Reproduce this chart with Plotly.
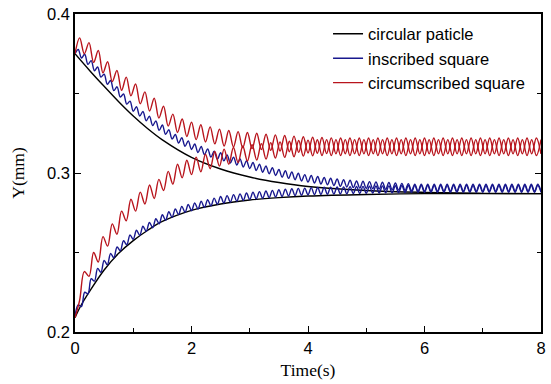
import numpy as np
import plotly.graph_objects as go

# ---- data ----
series_names = ["circular paticle", "inscribed square", "circumscribed square"]

# circular particle (smooth curves)
circ_upper_t = [0, 0.25, 0.5, 0.75, 1, 1.25, 1.5, 2, 2.5, 3, 3.5, 4, 5, 6, 7, 8]
circ_upper_y = [0.375, 0.3645, 0.3545, 0.3448, 0.3358, 0.3278, 0.3208, 0.3098, 0.3025, 0.2975,
                0.294, 0.2915, 0.289, 0.2878, 0.2872, 0.287]
circ_lower_t = [0, 0.1, 0.25, 0.5, 0.75, 1, 1.25, 1.5, 2, 2.5, 3, 3.5, 4, 5, 6, 7, 8]
circ_lower_y = [0.209, 0.2165, 0.2255, 0.239, 0.2495, 0.2575, 0.264, 0.2695, 0.2765, 0.2805,
                0.283, 0.2845, 0.2855, 0.2865, 0.287, 0.287, 0.287]

# inscribed square: successive peaks / troughs (start value first)
insc_upper_y = [
    0.375, 0.3777, 0.3723, 0.3747, 0.3683, 0.3707, 0.3643, 0.3667, 0.3603, 0.3622,
    0.3558, 0.3582, 0.3518, 0.3542, 0.3478, 0.3497, 0.3433, 0.3452, 0.3388, 0.3417,
    0.3358, 0.3387, 0.3328, 0.3357, 0.3298, 0.3327, 0.3268, 0.3302, 0.3243, 0.3272,
    0.3213, 0.3242, 0.3188, 0.3222, 0.3168, 0.3202, 0.3148, 0.3182, 0.3128, 0.3167,
    0.3115, 0.3152, 0.3100, 0.3137, 0.3086, 0.3127, 0.3076, 0.3113, 0.3063, 0.3100,
    0.3050, 0.3088, 0.3038, 0.3077, 0.3028, 0.3066, 0.3016, 0.3055, 0.3005, 0.3044,
    0.2995, 0.3033, 0.2984, 0.3022, 0.2974, 0.3014, 0.2966, 0.3006, 0.2958, 0.2998,
    0.2950, 0.2990, 0.2943, 0.2984, 0.2937, 0.2978, 0.2931, 0.2972, 0.2926, 0.2967,
    0.2921, 0.2962, 0.2916, 0.2958, 0.2912, 0.2954, 0.2908, 0.2950, 0.2905, 0.2948,
    0.2903, 0.2946, 0.2901, 0.2944, 0.2899, 0.2942, 0.2897, 0.2940, 0.2895, 0.2937,
    0.2892, 0.2935, 0.2890, 0.2933, 0.2888,
    0.293, 0.2885, 0.293, 0.2885, 0.293, 0.2885, 0.293, 0.2885, 0.293, 0.2885,
    0.293, 0.2885, 0.293, 0.2885, 0.293, 0.2885, 0.293, 0.2885, 0.293, 0.2885,
    0.293, 0.2885, 0.293, 0.2885, 0.293, 0.2885, 0.293, 0.2885, 0.293, 0.2885,
    0.293, 0.2885, 0.293, 0.2885, 0.293, 0.2885, 0.293, 0.2885, 0.293, 0.2885,
]
insc_lower_y = [
    0.210, 0.217, 0.216, 0.225, 0.224, 0.2335, 0.232, 0.240, 0.2375, 0.245,
    0.2422, 0.2494, 0.2467, 0.2535, 0.2511, 0.2574, 0.2548, 0.2610, 0.2583, 0.2640,
    0.2608, 0.2665, 0.2633, 0.2689, 0.2656, 0.2712, 0.2681, 0.2737, 0.2703, 0.2756,
    0.2721, 0.2774, 0.2738, 0.2790, 0.2753, 0.2802, 0.2763, 0.2812, 0.2773, 0.2822,
    0.2783, 0.2832, 0.2793, 0.2842, 0.2803, 0.2852, 0.2811, 0.2858, 0.2817, 0.2864,
    0.2823, 0.2869, 0.2828, 0.2874, 0.2833, 0.2879, 0.2837, 0.2883, 0.2841, 0.2887,
    0.2845, 0.2891, 0.2849, 0.2895, 0.2852, 0.2898, 0.2855, 0.2901, 0.2858, 0.2903,
    0.2860, 0.2905, 0.2863, 0.2908, 0.2864, 0.2909, 0.2865, 0.2910, 0.2866, 0.2911,
    0.2867, 0.2912, 0.2868, 0.2913, 0.2869, 0.2914, 0.2871, 0.2915, 0.2872, 0.2916,
    0.2873, 0.2917, 0.2874, 0.2918, 0.2874, 0.2919, 0.2875, 0.2919, 0.2876, 0.2920,
    0.2876, 0.2921, 0.2877, 0.2921, 0.2878,
    0.2922, 0.2878, 0.2922, 0.2878, 0.2922, 0.2878, 0.2922, 0.2878, 0.2922, 0.2878,
    0.2922, 0.2878, 0.2922, 0.2878, 0.2922, 0.2878, 0.2922, 0.2878, 0.2922, 0.2878,
    0.2922, 0.2878, 0.2922, 0.2878, 0.2922, 0.2878, 0.2922, 0.2878, 0.2922, 0.2878,
    0.2922, 0.2878, 0.2922, 0.2878, 0.2922, 0.2878, 0.2922, 0.2878, 0.2922, 0.2878,
]

# circumscribed square: successive peaks / troughs (start value first)
circum_upper_y = [
    0.375, 0.385, 0.375, 0.382, 0.3695, 0.377, 0.363, 0.370, 0.3575, 0.3645,
    0.352, 0.3603, 0.3485, 0.356, 0.3435, 0.351, 0.339, 0.347, 0.3345, 0.342,
    0.3295, 0.337, 0.3255, 0.334, 0.323, 0.332, 0.321, 0.3303, 0.3195, 0.329,
    0.3183, 0.3276, 0.317, 0.3267, 0.3164, 0.326, 0.3158, 0.3255, 0.3153, 0.325,
    0.3147, 0.3244, 0.3142, 0.324, 0.3138, 0.3236, 0.3134, 0.3232, 0.313, 0.3228,
    0.3126, 0.3225, 0.3124, 0.3223, 0.3122, 0.3221, 0.3121, 0.322, 0.3121, 0.322,
    0.312,
    0.322, 0.312, 0.322, 0.312, 0.322, 0.312, 0.322, 0.312, 0.322, 0.312,
    0.322, 0.312, 0.322, 0.312, 0.322, 0.312, 0.322, 0.312, 0.322, 0.312,
    0.322, 0.312, 0.322, 0.312, 0.322, 0.312, 0.322, 0.312, 0.322, 0.312,
    0.322, 0.312, 0.322, 0.312, 0.322, 0.312, 0.322, 0.312, 0.322, 0.312,
]
circum_lower_y = [
    0.209, 0.220, 0.238, 0.235, 0.250, 0.244, 0.260, 0.254, 0.268, 0.2615,
    0.276, 0.270, 0.2835, 0.276, 0.288, 0.2805, 0.2925, 0.284, 0.296, 0.289,
    0.301, 0.293, 0.3055, 0.297, 0.308, 0.299, 0.310, 0.3008, 0.3118, 0.3027,
    0.3135, 0.3043, 0.315, 0.3055, 0.316, 0.3065, 0.317, 0.3075, 0.3178, 0.3082,
    0.3185, 0.3088, 0.3191, 0.3094, 0.3196, 0.3098, 0.320, 0.3102, 0.3204, 0.3106,
    0.3207, 0.3108, 0.3209, 0.311, 0.321,
    0.311, 0.321, 0.311, 0.321, 0.311, 0.321, 0.311, 0.321, 0.311, 0.321,
    0.311, 0.321, 0.311, 0.321, 0.311, 0.321, 0.311, 0.321, 0.311, 0.321,
    0.311, 0.321, 0.311, 0.321, 0.311, 0.321, 0.311, 0.321, 0.311, 0.321,
    0.311, 0.321, 0.311, 0.321, 0.311, 0.321, 0.311, 0.321, 0.311, 0.321,
    0.311, 0.321, 0.311, 0.321, 0.311, 0.321,
]

x_ticks = [0, 2, 4, 6, 8]
y_ticks = [0.2, 0.3, 0.4]
y_ticktext = ["0.2", "0.3", "0.4"]

T_END = 8.0
# sample times: start, then successive extrema at equal spacing
t_insc_u = np.linspace(0, T_END, len(insc_upper_y))
t_insc_l = np.linspace(0, T_END, len(insc_lower_y))
t_circ_u = np.linspace(0, T_END, len(circum_upper_y))
t_circ_l = np.linspace(0, T_END, len(circum_lower_y))

BLACK = "#000000"
BLUE = "#18188e"
RED = "#b8141c"
LW = 1.4

fig = go.Figure()


def add(x, y, color, name, show):
    fig.add_trace(go.Scatter(
        x=x, y=y, mode="lines", name=name, legendgroup=name, showlegend=show,
        line=dict(color=color, width=LW, shape="spline", smoothing=1.0),
        hoverinfo="skip",
    ))


add(circ_upper_t, circ_upper_y, BLACK, series_names[0], True)
add(circ_lower_t, circ_lower_y, BLACK, series_names[0], False)
add(t_insc_u, insc_upper_y, BLUE, series_names[1], True)
add(t_insc_l, insc_lower_y, BLUE, series_names[1], False)
add(t_circ_u, circum_upper_y, RED, series_names[2], True)
add(t_circ_l, circum_lower_y, RED, series_names[2], False)

tick_font = dict(family="Liberation Sans, Arial, sans-serif", size=16.5, color="black")
title_font = dict(family="Liberation Serif, Times New Roman, serif", size=17.5, color="black")

fig.update_xaxes(
    range=[0, 8], tickvals=x_ticks, ticks="inside", ticklen=6, tickwidth=1.3,
    tickcolor="black", showline=True, linecolor="black", linewidth=1.5, mirror=True,
    showgrid=False, zeroline=False, tickfont=tick_font,
    minor=dict(ticks="inside", ticklen=4, dtick=1, tick0=0, tickcolor="black", tickwidth=1.3, showgrid=False),
    title=dict(text="Time(s)", font=title_font, standoff=8),
)
fig.update_yaxes(
    range=[0.2, 0.4], tickvals=y_ticks, ticktext=y_ticktext, ticks="inside", ticklen=6,
    tickwidth=1.3, tickcolor="black", showline=True, linecolor="black", linewidth=1.5,
    mirror="ticks", showgrid=False, zeroline=False, tickfont=tick_font,
    minor=dict(ticks="inside", ticklen=4, dtick=0.05, tick0=0.2, tickcolor="black", tickwidth=1.3, showgrid=False),
    title=dict(text="Y(mm)", font=title_font, standoff=18),
)

fig.update_layout(
    width=551, height=384,
    margin=dict(l=75, r=5, t=13, b=52),
    paper_bgcolor="white", plot_bgcolor="white",
    showlegend=True,
    legend=dict(
        x=0.543, y=0.992, xanchor="left", yanchor="top",
        font=dict(family="Liberation Sans, Arial, sans-serif", size=16.5, color="black"),
        bgcolor="rgba(0,0,0,0)", tracegroupgap=0, itemwidth=30,
    ),
)

fig.write_html("out.html")
